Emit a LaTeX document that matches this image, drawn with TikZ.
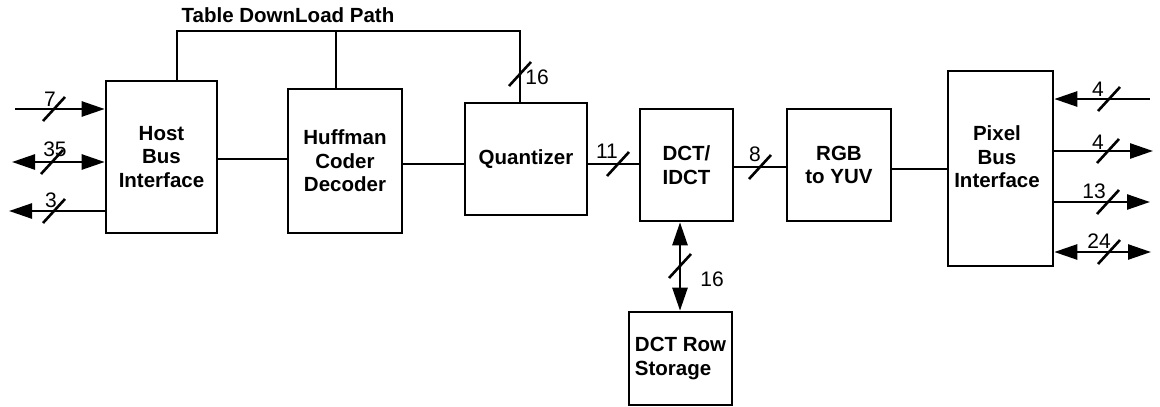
\documentclass[tikz,border=0pt]{standalone}
\usepackage{fontspec}
\setmainfont{Liberation Sans}
\usetikzlibrary{arrows.meta}
\begin{document}
\begin{tikzpicture}[x=1pt,y=-1pt,line width=2.6pt,
  blk/.style={draw,line width=2.6pt,inner sep=0pt,align=center,
    font=\bfseries\fontsize{20.5}{23.5}\selectfont},
  txt/.style={inner sep=0pt,align=center,font=\bfseries\fontsize{20.5}{23.5}\selectfont},
  lbl/.style={inner sep=0pt,font=\fontsize{21}{24}\selectfont},
  ar/.style={-{Triangle[length=23pt,width=15pt]}},
  al/.style={{Triangle[length=23pt,width=15pt]}-},
  ab/.style={{Triangle[length=23pt,width=15pt]}-{Triangle[length=23pt,width=15pt]}},
  bus/.pic={\draw[line width=2.6pt] (-11,12) -- (11,-12);}
]
\useasboundingbox (0,0) rectangle (1160,407);

% blocks
\node[blk,minimum width=111pt,minimum height=152pt] (host) at (161.5,157) {Host\\Bus\\Interface};
\node[blk,minimum width=114pt,minimum height=144pt] (huff) at (345,161) {Huffman\\Coder\\Decoder};
\node[blk,minimum width=122pt,minimum height=112pt] (quant) at (526,159) {Quantizer};
\node[blk,minimum width=93pt,minimum height=112pt] (dct) at (686.5,165) {DCT/\\IDCT};
\node[blk,minimum width=104pt,minimum height=112pt] (rgb) at (839,165) {RGB\\to YUV};
\node[blk,minimum width=105pt,minimum height=195pt] (pix) at (1000.5,168.5) {};
\node[txt] (pixtxt) at (997,157) {Pixel\\Bus\\Interface};
\node[blk,align=left,minimum width=103pt,minimum height=93pt] (store) at (680.5,358.5) {DCT Row\\Storage};

% table download path
\node[txt] (title) at (288,15) {Table DownLoad Path};
\coordinate (tl) at (177,31);
\coordinate (tm) at (336,31);
\coordinate (tr) at (520,31);
\draw (tl |- host.north) -- (tl) -- (tr) -- (tr |- quant.north);
\draw (tm) -- (tm |- huff.north);
\pic at (520,74) {bus};
\node[lbl] (l16a) at (537,77) {16};

% main chain
\draw (host.east |- 0,159) -- (huff.west |- 0,159);
\draw (huff.east |- 0,164) -- (quant.west |- 0,164);
\draw (quant.east |- 0,164) -- (dct.west |- 0,164);
\pic at (618,164) {bus};
\node[lbl] (l11) at (607,151.5) {11};
\draw (dct.east |- 0,167) -- (rgb.west |- 0,167);
\pic at (760,167) {bus};
\node[lbl] (l8) at (755,154.5) {8};
\draw (rgb.east |- 0,169) -- (pix.west |- 0,169);

% DCT row storage
\draw[ab] (dct.south -| 680,0) -- (store.north -| 680,0);
\pic at (680,266) {bus};
\node[lbl] (l16b) at (712,279.5) {16};

% host side
\coordinate (h7) at (15,109);
\coordinate (h35) at (12,162);
\coordinate (h3) at (9,211);
\draw[ar] (h7) -- (h7 -| host.west);
\pic at (54,109) {bus};
\node[lbl] (l7) at (50,99.5) {7};
\draw[ab] (h35) -- (h35 -| host.west);
\pic at (52,162) {bus};
\node[lbl] (l35) at (55,149.5) {35};
\draw[ar] (h3 -| host.west) -- (h3);
\pic at (54,211) {bus};
\node[lbl] (l3) at (51,200) {3};

% pixel side
\coordinate (p1) at (1150,99);
\coordinate (p2) at (1153,151);
\coordinate (p3) at (1150,202);
\coordinate (p4) at (1151,252);
\draw[al] (p1 -| pix.east) -- (p1);
\pic at (1109,99) {bus};
\node[lbl] (lp1) at (1098,89) {4};
\draw[ar] (p2 -| pix.east) -- (p2);
\pic at (1108,151) {bus};
\node[lbl] (lp2) at (1098,142.5) {4};
\draw[ar] (p3 -| pix.east) -- (p3);
\pic at (1108,202) {bus};
\node[lbl] (lp3) at (1094,191) {13};
\draw[ab] (p4 -| pix.east) -- (p4);
\pic at (1109,252) {bus};
\node[lbl] (lp4) at (1099,241) {24};
\end{tikzpicture}
\end{document}
